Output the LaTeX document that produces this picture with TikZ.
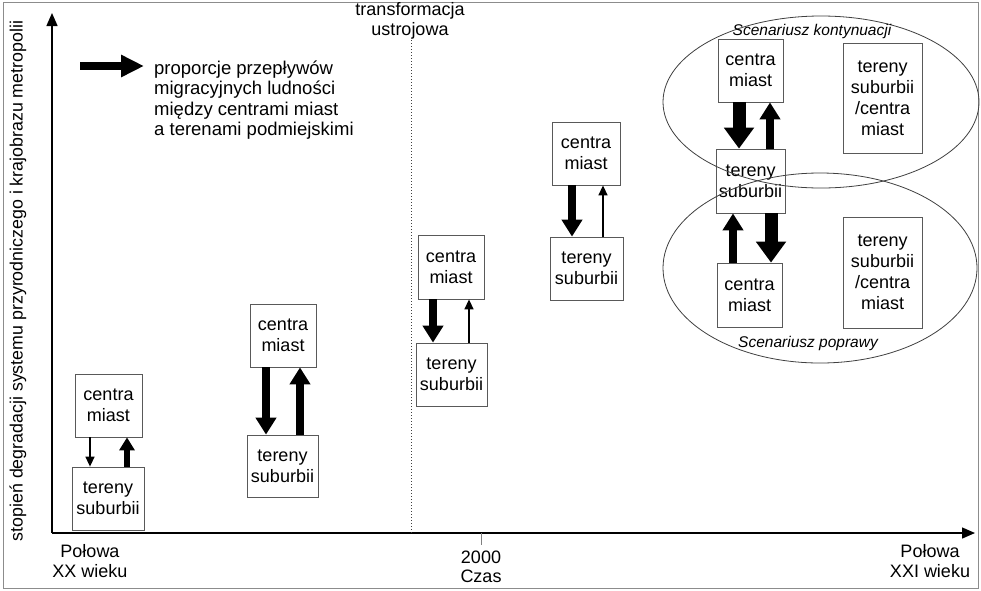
\documentclass[tikz,border=0pt]{standalone}
\usepackage{fontspec}
\setmainfont{Liberation Sans}
\usetikzlibrary{arrows.meta,calc}
\begin{document}
\begin{tikzpicture}[x=1pt,y=-1pt,
  box/.style={draw=black!65, line width=0.8pt, fill=white, inner sep=0pt, align=center,
    font=\fontsize{18}{21}\selectfont},
  arrthin/.style={line width=1.5pt, -{Triangle[length=10pt,width=9pt]}},
  arrsm/.style={line width=6pt, -{Triangle[length=13pt,width=15pt]}},
  arrmed/.style={line width=7.5pt, -{Triangle[length=17pt,width=20pt]}},
  arrbig/.style={line width=13pt, -{Triangle[length=21pt,width=29pt]}},
  axis/.style={line width=1.4pt, -{Triangle[length=13pt,width=11pt]}},
  lbl/.style={align=center, font=\fontsize{18}{19.5}\selectfont, inner sep=0pt},
  scen/.style={font=\fontsize{15.5}{18}\itshape, inner sep=0pt},
  ell/.style={draw=black!75, line width=0.8pt}]
\useasboundingbox (0,0) rectangle (981,590);
\fill[white] (0,0) rectangle (981,590);
\draw[black!45, line width=1pt] (3,2) rectangle (978,588);

% scenario ellipses
\draw[ell] (821,102) ellipse [x radius=158, y radius=86];
\draw[ell] (820,268) ellipse [x radius=157, y radius=95];

% axes
\coordinate (O) at (52,533);
\coordinate (Ytop) at (52,13);
\coordinate (Xend) at (975,533);
\draw[axis] (O) -- (Ytop);
\draw[axis] (O) -- (Xend);
\coordinate (tick) at (481,533);
\coordinate (tickb) at (481,545);
\draw[black!50, line width=0.6pt] (tick) -- (tickb);

% transformation line
\coordinate (trtop) at (411,40);
\coordinate (trbot) at (411,533);
\draw[black!75, line width=1pt, dotted] (trtop) -- (trbot);
\node[lbl] (tr) at (410,21) {transformacja\\ustrojowa};

% axis labels
\node[lbl] (x1) at (90,561) {Połowa\\XX wieku};
\node[lbl] (x2) at (481,567) {2000\\Czas};
\node[lbl] (x3) at (930,561) {Połowa\\XXI wieku};
\node[lbl, rotate=90, font=\fontsize{17.8}{20}\selectfont] (ylab) at (18,281) {stopień degradacji systemu przyrodniczego i krajobrazu metropolii};

% legend
\coordinate (lga) at (80,66);
\coordinate (lgb) at (144,66);
\draw[line width=8pt, -{Triangle[length=23pt,width=21pt]}] (lga) -- (lgb);
\node[align=left, anchor=west, inner sep=0pt, font=\fontsize{18.5}{20.5}\selectfont] (legend) at (154,100)
  {proporcje przepływów\\migracyjnych ludności\\między centrami miast\\a terenami podmiejskimi};

% stage 1
\node[box, minimum width=67pt, minimum height=63pt] (c1) at (108.5,405.5) {centra\\miast};
\node[box, minimum width=72pt, minimum height=63pt] (t1) at (108,498.5) {tereny\\suburbii};
\draw[arrthin] ([xshift=-18.5pt]c1.south) -- ([xshift=-18.5pt]c1.south |- t1.north);
\draw[arrsm] ([xshift=19pt]t1.north) -- ([xshift=19pt]t1.north |- c1.south);

% stage 2
\node[box, minimum width=66pt, minimum height=63pt] (c2) at (283,335.5) {centra\\miast};
\node[box, minimum width=71pt, minimum height=62pt] (t2) at (282.5,466) {tereny\\suburbii};
\draw[arrmed] ([xshift=-17pt]c2.south) -- ([xshift=-17pt]c2.south |- t2.north);
\draw[arrmed] ([xshift=17.5pt]t2.north) -- ([xshift=17.5pt]t2.north |- c2.south);

% stage 3
\node[box, minimum width=66pt, minimum height=64pt] (c3) at (451,267) {centra\\miast};
\node[box, minimum width=71pt, minimum height=63pt] (t3) at (451.5,374.5) {tereny\\suburbii};
\draw[arrmed] ([xshift=-18pt]c3.south) -- ([xshift=-18pt]c3.south |- t3.north);
\draw[arrthin] ([xshift=17.5pt]t3.north) -- ([xshift=17.5pt]t3.north |- c3.south);

% stage 4
\node[box, minimum width=68pt, minimum height=63pt] (c4) at (586,153.5) {centra\\miast};
\node[box, minimum width=73pt, minimum height=63pt] (t4) at (586.5,268.5) {tereny\\suburbii};
\draw[arrmed] ([xshift=-14pt]c4.south) -- ([xshift=-14pt]c4.south |- t4.north);
\draw[arrthin] ([xshift=16.5pt]t4.north) -- ([xshift=16.5pt]t4.north |- c4.south);

% scenarios
\node[box, minimum width=65pt, minimum height=63pt] (c5) at (750.5,70.5) {centra\\miast};
\node[box, minimum width=79pt, minimum height=110pt] (r5) at (882.5,98) {tereny\\suburbii\\/centra\\miast};
\node[box, minimum width=69pt, minimum height=64pt] (t5) at (750.5,181) {tereny\\suburbii};
\node[box, minimum width=65pt, minimum height=64pt] (c6) at (749.5,295) {centra\\miast};
\node[box, minimum width=79pt, minimum height=111pt] (r6) at (882.5,272.5) {tereny\\suburbii\\/centra\\miast};
\draw[arrbig] ([xshift=-11.5pt]c5.south) -- ([xshift=-11.5pt]c5.south |- t5.north);
\draw[arrmed] ([xshift=19.5pt]t5.north) -- ([xshift=19.5pt]t5.north |- c5.south);
\draw[arrmed] ([xshift=-16.5pt]c6.north) -- ([xshift=-16.5pt]c6.north |- t5.south);
\draw[arrbig] ([xshift=20.5pt]t5.south) -- ([xshift=20.5pt]t5.south |- c6.north);

% ellipse lines cross the middle box in the reference
\begin{scope}
\clip (t5.south west) rectangle (t5.north east);
\draw[ell] (821,102) ellipse [x radius=158, y radius=86];
\draw[ell] (820,268) ellipse [x radius=157, y radius=95];
\end{scope}

\node[scen] (s1) at (812,31) {Scenariusz kontynuacji};
\node[scen] (s2) at (808,343) {Scenariusz poprawy};
\end{tikzpicture}
\end{document}
